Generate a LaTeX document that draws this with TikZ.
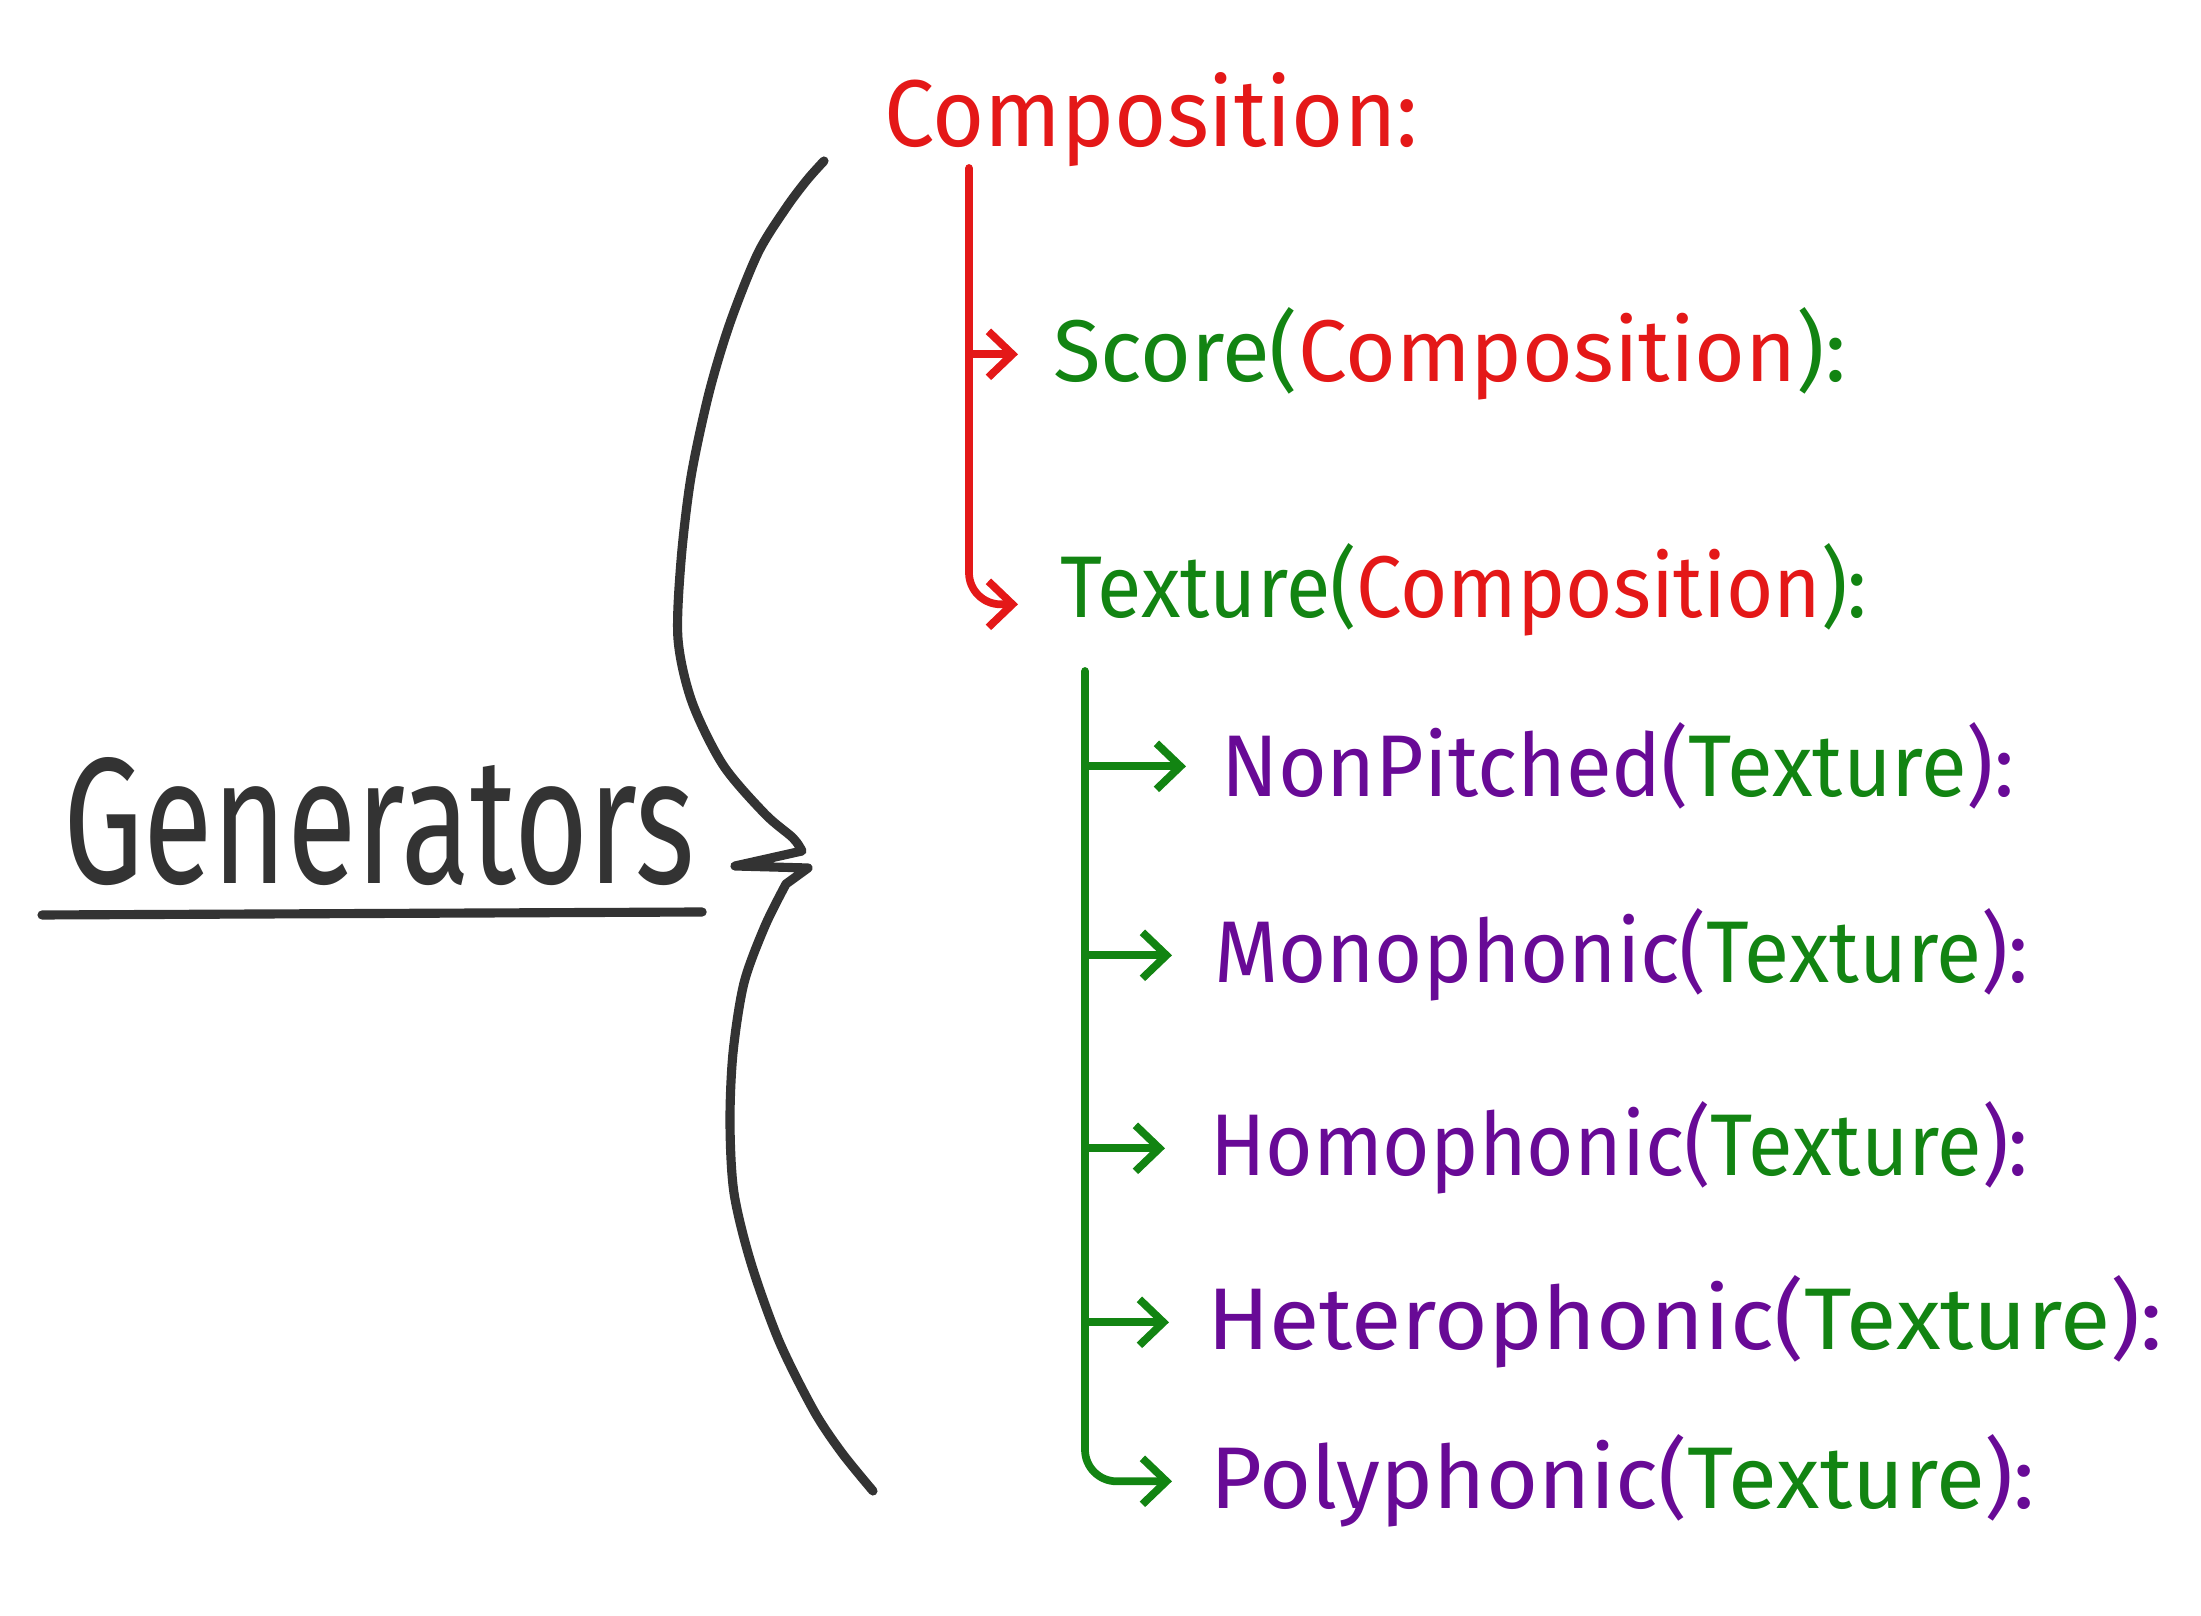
\documentclass[tikz,border=0pt]{standalone}
\usepackage{graphicx}
\usepackage{fontspec}
\setmainfont{Fira Sans}
\usetikzlibrary{positioning,arrows.meta}

\definecolor{hred}{RGB}{228,24,24}
\definecolor{hgreen}{RGB}{18,132,18}
\definecolor{hpurple}{RGB}{104,10,150}
\definecolor{hgray}{RGB}{51,51,51}

% text squeezed to the width and cap height it has in the sketch
\newcommand{\hw}[2]{\resizebox{#1}{0.74cm}{#2}}
\newcommand{\rd}[1]{\textcolor{hred}{#1}}
\newcommand{\gr}[1]{\textcolor{hgreen}{#1}}
\newcommand{\pu}[1]{\textcolor{hpurple}{#1}}

\begin{document}
\begin{tikzpicture}
  \tikzstyle{txt}=[anchor=base west,inner sep=0pt,outer sep=0pt]
  \tikzstyle{redline}=[draw=hred,line width=2.2pt,line cap=round,-{Straight Barb[length=2.4mm,width=4.6mm]}]
  \tikzstyle{greenline}=[draw=hgreen,line width=2.2pt,line cap=round,-{Straight Barb[length=2.4mm,width=4.6mm]}]
  \tikzstyle{brace}=[draw=hgray,line width=2.6pt,line cap=round,line join=round]
  \useasboundingbox (0,0) rectangle (22.01,16.16);

  \node[txt] (gen) at (0.63,7.32) {\resizebox{6.32cm}{1.26cm}{\textcolor{hgray}{Generators}}};
  \draw[brace] ([shift={(-0.21,-0.31)}]gen.base west) -- ([shift={(0.07,-0.28)}]gen.base east);

  \node[txt] (comp) at (8.84,14.69) {\hw{5.34cm}{\rd{Composition:}}};
  \node[txt] (score) at (10.53,12.34) {\hw{7.93cm}{\gr{Score(}\rd{Composition}\gr{):}}};
  \node[txt] (tex) at (10.60,9.98) {\hw{8.07cm}{\gr{Texture(}\rd{Composition}\gr{):}}};
  \node[txt] (npit) at (12.21,8.19) {\hw{7.93cm}{\pu{NonPitched(}\gr{Texture}\pu{):}}};
  \node[txt] (mono) at (12.14,6.33) {\hw{8.14cm}{\pu{Monophonic(}\gr{Texture}\pu{):}}};
  \node[txt] (homo) at (12.10,4.40) {\hw{8.18cm}{\pu{Homophonic(}\gr{Texture}\pu{):}}};
  \node[txt] (het) at (12.07,2.66) {\hw{9.55cm}{\pu{Heterophonic(}\gr{Texture}\pu{):}}};
  \node[txt] (poly) at (12.10,1.07) {\hw{8.25cm}{\pu{Polyphonic(}\gr{Texture}\pu{):}}};

  % brace
  \draw[brace] plot[smooth] coordinates {(8.24,14.55) (8.07,14.36) (7.86,14.08) (7.58,13.63) (7.30,12.93)
      (7.09,12.23) (6.91,11.39) (6.81,10.55) (6.78,9.77) (6.92,9.14) (7.23,8.51) (7.65,8.02) (7.93,7.78) (8.02,7.65)}
    -- (7.35,7.50) -- (8.08,7.48)
    -- plot[smooth] coordinates {(7.86,7.32) (7.65,6.90) (7.44,6.33) (7.33,5.63) (7.30,4.93) (7.34,4.23)
      (7.51,3.53) (7.79,2.75) (8.14,2.05) (8.42,1.63) (8.73,1.25)};

  % red tree
  \coordinate (ctop) at ([shift={(0.85,-0.21)}]comp.base west);
  \draw[redline,rounded corners=9pt] (ctop) |- ([shift={(-0.42,-0.14)}]tex.west);
  \draw[redline] (ctop |- score.west) -- ([xshift=-0.35cm]score.west);

  % green tree
  \coordinate (gtop) at ([shift={(0.25,-0.53)}]tex.base west);
  \foreach \n/\g in {npit/0.35,mono/0.42,homo/0.45,het/0.38}
    \draw[greenline] (gtop |- \n.west) -- ([xshift=-\g cm]\n.west);
  \draw[greenline,rounded corners=9pt] (gtop) |- ([xshift=-0.38cm]poly.west);
\end{tikzpicture}
\end{document}
